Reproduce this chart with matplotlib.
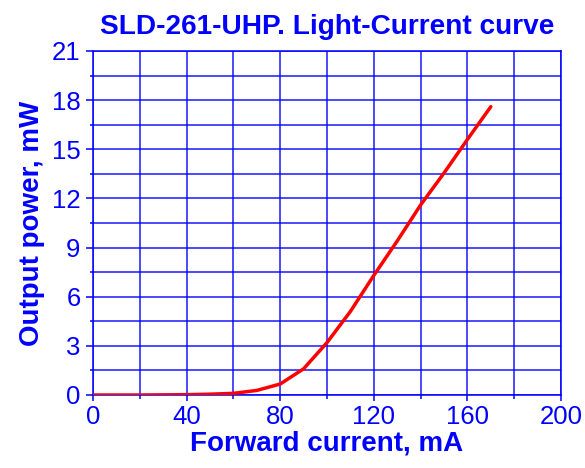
import matplotlib
matplotlib.use('Agg')
import matplotlib.pyplot as plt
from matplotlib.ticker import MultipleLocator

# light-current data
current = [0, 10, 20, 30, 40, 50, 60, 70, 80, 90, 100, 110, 120, 130, 140, 150, 160, 170]
power = [0, 0, 0, 0.01, 0.02, 0.05, 0.1, 0.28, 0.67, 1.6, 3.2, 5.1, 7.3, 9.4,
         11.6, 13.55, 15.6, 17.6]
x_ticks = [0, 40, 80, 120, 160, 200]
y_ticks = [0, 3, 6, 9, 12, 15, 18, 21]

blue = '#0000ff'
plt.rcParams['font.family'] = ['Liberation Sans', 'DejaVu Sans']

fig = plt.figure(figsize=(5.85, 4.68), dpi=100)
ax = fig.add_axes([93/585, 73/468, 468/585, 344/468])

# grid every 20 mA and every 1.5 mW
ax.xaxis.set_minor_locator(MultipleLocator(20))
ax.yaxis.set_minor_locator(MultipleLocator(1.5))
ax.grid(which='both', color=blue, linewidth=1.1, alpha=0.9)
ax.set_axisbelow(True)

ax.plot(current, power, color='#ff0000', linewidth=2.5, solid_capstyle='round', zorder=3)

ax.set_xlim(0, 200)
ax.set_ylim(0, 21)
ax.set_xticks(x_ticks)
ax.set_yticks(y_ticks)

for s in ax.spines.values():
    s.set_color(blue)
    s.set_linewidth(1.1)

ax.tick_params(axis='both', which='both', direction='out', colors=blue, width=1.1,
               labelsize=18.5, labelcolor=blue)
ax.tick_params(axis='y', which='major', length=5, pad=4)
ax.tick_params(axis='y', which='minor', length=2.5)
ax.tick_params(axis='x', which='major', length=4, pad=3.5)
ax.tick_params(axis='x', which='minor', length=3)

ax.set_title('SLD-261-UHP. Light-Current curve', color=blue, fontsize=20.2,
             fontweight='bold', pad=12)
ax.set_xlabel('Forward current, mA', color=blue, fontsize=20, fontweight='bold',
              labelpad=1)
ax.set_ylabel('Output power, mW', color=blue, fontsize=20, fontweight='bold',
              labelpad=5)

fig.savefig('out.png', dpi=100)
